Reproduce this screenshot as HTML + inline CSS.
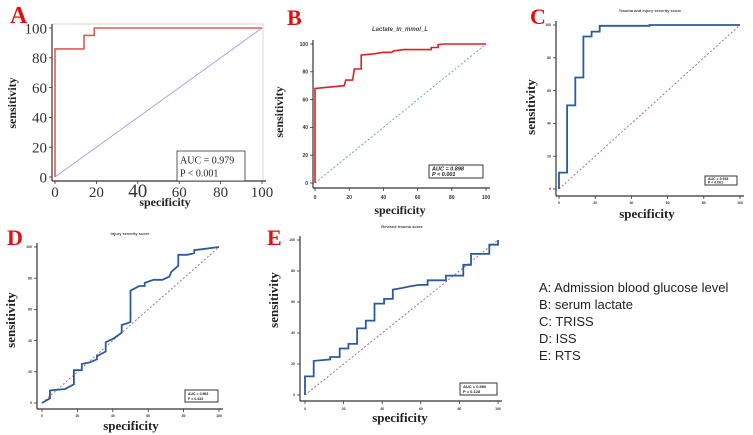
<!DOCTYPE html>
<html><head><meta charset="utf-8">
<style>
html,body{margin:0;padding:0;background:#fff;width:753px;height:435px;overflow:hidden}
svg{display:block}
.lg{font-family:"Liberation Sans",sans-serif;font-size:13px;fill:#222}
</style></head>
<body>
<svg id="fig" width="753" height="435" viewBox="0 0 753 435" xmlns="http://www.w3.org/2000/svg">
<g id="legend">
<text class="lg" x="539" y="292">A: Admission blood glucose level</text>
<text class="lg" x="539" y="309">B: serum lactate</text>
<text class="lg" x="539" y="326">C: TRISS</text>
<text class="lg" x="539" y="343">D: ISS</text>
<text class="lg" x="539" y="360">E: RTS</text>
</g>
</svg>
<script>
const tickLabels = [0, 20, 40, 60, 80, 100];
const specA = [0,0,14,14,19,19,100];
const sensA = [0,86,86,95,95,100,100];
const specB = [0,0,17,18,22,23,27,27,35,40,45,46,52,68,68,72,72,75,100];
const sensB = [0,68,70,74,74,82,82,92,93,94,94,95,96,96,97.5,97.5,99.5,100,100];
const specC = [0,0,4.5,4.5,9,9,13.5,13.5,18,18,22.5,22.5,50,50,100];
const sensC = [0,10,10,51,51,68,68,93,93,96,96,99.5,99.5,100,100];
const specD = [0,4.5,4.5,13,18,18,22.5,22.5,27,31,31,36,36,40,45,45,48,50,50,55,58,58,63,68,72,73,77,77,82,86,86,90,100];
const sensD = [0,3,8,9,12,21,21,25,26,28,30,33,39,41,45,50,51,52,72,75,75,77,79,79,81,84,88,95,95,96,98,98.5,100];
const specE = [0,0,4.5,4.5,9,13,13,18,18,22.5,22.5,27,27,31.5,31.5,36,36,41,41,45.5,45.5,50,54,59,63.5,63.5,73,73,82,82,86,86,95.5,95.5,100,100];
const sensE = [0,12,12,22,22.5,23,24.5,24.5,30,30,33,33,43,43,48,48,59,59,62,62,68,69,70,71,71,74,74,77,77,84,84,91,91,97,97,100];
const aucLabels = ["AUC = 0.979","AUC = 0.898","AUC = 0.918","AUC = 0.563","AUC = 0.590"];
const pLabels = ["P < 0.001","P < 0.001","P < 0.001","P = 0.433","P = 0.128"];

const NS="http://www.w3.org/2000/svg";
const svg=document.getElementById('fig');
function mk(tag,attrs,parent,text){const e=document.createElementNS(NS,tag);for(const k in attrs)e.setAttribute(k,attrs[k]);if(text!==undefined)e.textContent=text;(parent||svg).appendChild(e);return e;}

const panels=[
 {id:'a',letter:'A',spec:specA,sens:sensA,x0:55,x1:262,y0:177,y1:28,axL:52,axB:181,lc:'#e05a5a',lw:1.6,dc:'#9aa0e8',dash:'',tickFs:15,tickFont:'"Liberation Serif",serif',tickY:197,title:'',lx:10,ly:23,lfs:24,specX:165,specY:206,specFs:12,sensX:16,sensY:103,sensFs:12,box:[177,151,68,30],boxFs:10,boxFont:'"Liberation Serif",serif',grid:true},
 {id:'b',letter:'B',spec:specB,sens:sensB,x0:315,x1:486,y0:183,y1:44,axL:313,axB:188,lc:'#e02020',lw:1.6,dc:'#5a9ad0',dash:'2,2',tickFs:5,tickFont:'"Liberation Sans",sans-serif',tickY:199,title:'Lactate_in_mmol_L',titleX:400,titleY:31,titleFs:6,lx:287,ly:25,lfs:22,specX:400,specY:214,specFs:12,sensX:283,sensY:112,sensFs:12,box:[429,165,54,13],boxFs:5.5,boxFont:'"Liberation Sans",sans-serif'},
 {id:'c',letter:'C',spec:specC,sens:sensC,x0:559,x1:740,y0:189,y1:25,axL:556,axB:196,lc:'#2a5aa0',lw:1.8,dc:'#b06070',dash:'2,2',tickFs:3.5,tickFont:'"Liberation Sans",sans-serif',tickY:204,title:'Trauma and injury severity score',titleX:650,titleY:12,titleFs:4,lx:530,ly:24,lfs:22,specX:647,specY:218,specFs:13,sensX:535,sensY:107,sensFs:13,box:[705,176,32,9],boxFs:3.5,boxFont:'"Liberation Sans",sans-serif'},
 {id:'d',letter:'D',spec:specD,sens:sensD,x0:42,x1:219,y0:403,y1:247,axL:37,axB:409,lc:'#2a5aa0',lw:1.8,dc:'#b06070',dash:'2,2',tickFs:3.5,tickFont:'"Liberation Sans",sans-serif',tickY:417,title:'Injury severity score',titleX:130,titleY:235,titleFs:4,lx:7,ly:245,lfs:22,specX:131,specY:430,specFs:13,sensX:15,sensY:320,sensFs:13,box:[185,390,33,12],boxFs:3.5,boxFont:'"Liberation Sans",sans-serif'},
 {id:'e',letter:'E',spec:specE,sens:sensE,x0:305,x1:498,y0:395,y1:240,axL:300,axB:401,lc:'#2a5aa0',lw:1.8,dc:'#b06070',dash:'2,2',tickFs:3.5,tickFont:'"Liberation Sans",sans-serif',tickY:410,title:'Revised trauma score',titleX:402,titleY:228,titleFs:4,lx:267,ly:245,lfs:22,specX:400,specY:422,specFs:13,sensX:278,sensY:300,sensFs:13,box:[460,383,37,12],boxFs:4,boxFont:'"Liberation Sans",sans-serif'}
];

panels.forEach((p,i)=>{
 const g=mk('g',{});
 
 
 const sx=v=>p.x0+(p.x1-p.x0)*v/100;
 const sy=v=>p.y0+(p.y1-p.y0)*v/100;
 if(p.grid){
  const gb=mk('rect',{x:p.axL,y:p.y1-4,width:p.x1-p.axL+1,height:p.axB-p.y1+4,fill:'none',stroke:'#ccc','stroke-width':0.8},g);
  
 }
 // axes
 const ya=mk('line',{x1:p.axL,y1:p.y1-4,x2:p.axL,y2:p.axB,stroke:'#333','stroke-width':1.2},g);
 
 const xa=mk('line',{x1:p.axL,y1:p.axB,x2:p.x1+4,y2:p.axB,stroke:'#333','stroke-width':1.2},g);
 
 tickLabels.forEach(t=>{
  mk('line',{x1:sx(t),y1:p.axB,x2:sx(t),y2:p.axB+3,stroke:'#333','stroke-width':0.8},g);
  mk('line',{x1:p.axL-3,y1:sy(t),x2:p.axL,y2:sy(t),stroke:'#333','stroke-width':0.8},g);
  const fsx=(p.id==='a'&&t===40)?p.tickFs+4:p.tickFs;
  const xt=mk('text',{x:sx(t),y:p.tickY,'font-size':fsx,'font-family':p.tickFont,'text-anchor':'middle',fill:'#333','font-weight':p.id==='a'?'normal':'bold'},g,String(t));
  
  const yt=mk('text',{x:p.axL-5,y:sy(t)+p.tickFs*0.35,'font-size':p.tickFs,'font-family':p.tickFont,'text-anchor':'end',fill:'#333','font-weight':p.id==='a'?'normal':'bold'},g,String(t));
  
 });
 const dl=mk('line',{x1:sx(0),y1:sy(0),x2:sx(100),y2:sy(100),stroke:p.dc,'stroke-width':0.9,'stroke-dasharray':p.dash},g);
 
 const pts=p.spec.map((s,k)=>sx(s).toFixed(1)+','+sy(p.sens[k]).toFixed(1)).join(' ');
 const pl=mk('polyline',{points:pts,fill:'none',stroke:p.lc,'stroke-width':p.lw,'stroke-linejoin':'miter'},g);
 
 if(p.title){
  const tt=mk('text',{x:p.titleX,y:p.titleY,'font-size':p.titleFs,'font-family':'"Liberation Sans",sans-serif','text-anchor':'middle','font-weight':'bold','font-style':p.id==='b'?'italic':'normal',fill:'#444'},g,p.title);
  
 }
 const lt=mk('text',{x:p.lx,y:p.ly,'font-size':p.lfs,'font-family':'"Liberation Serif",serif','font-weight':'bold',fill:'#e01010'},g,p.letter);
 
 const st=mk('text',{x:p.specX,y:p.specY,'font-size':p.specFs,'font-family':'"Liberation Serif",serif','font-weight':'bold','text-anchor':'middle',fill:'#222'},g,'specificity');
 
 const se=mk('text',{x:p.sensX,y:p.sensY,'font-size':p.sensFs,'font-family':'"Liberation Serif",serif','font-weight':'bold','text-anchor':'middle',fill:'#222',transform:'rotate(-90 '+p.sensX+' '+p.sensY+')'},g,'sensitivity');
 
 const b=p.box;
 const br=mk('rect',{x:b[0],y:b[1],width:b[2],height:b[3],fill:'#fff',stroke:'#333','stroke-width':p.id==='a'?0.8:1},g);
 
 const fw=p.id==='a'?'normal':'bold', fst=p.id==='b'?'italic':'normal';
 const a1=mk('text',{x:b[0]+3,y:b[1]+b[3]*0.42,'font-size':p.boxFs,'font-family':p.boxFont,'font-weight':fw,'font-style':fst,fill:'#222'},g,aucLabels[i]);
 
 const a2=mk('text',{x:b[0]+3,y:b[1]+b[3]*0.85,'font-size':p.boxFs,'font-family':p.boxFont,'font-weight':fw,'font-style':fst,fill:'#222'},g,pLabels[i]);
 
});
</script>
</body></html>
